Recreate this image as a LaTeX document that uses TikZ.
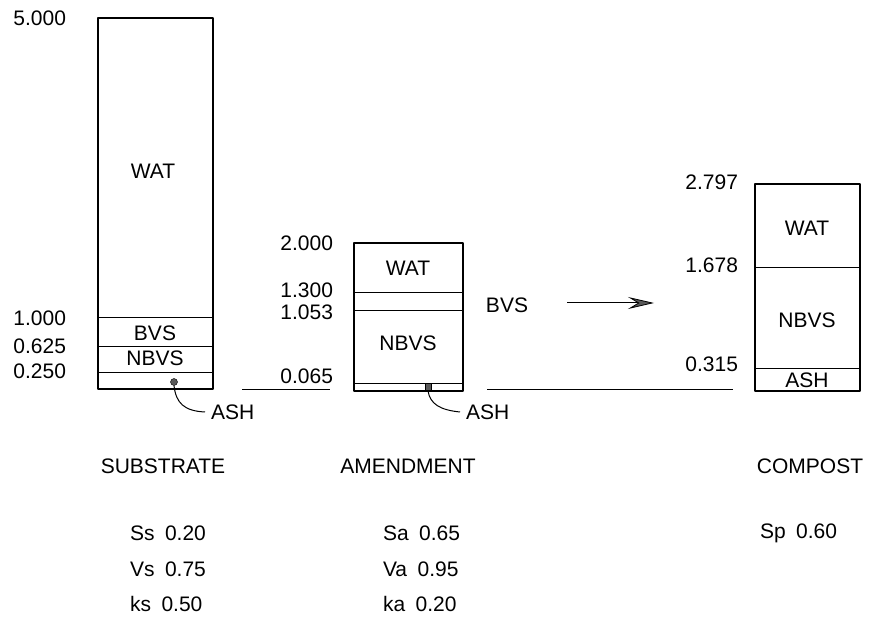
\documentclass[tikz,border=0pt]{standalone}
\usepackage{fontspec}
\setmainfont{Liberation Sans}
\usetikzlibrary{positioning,arrows.meta}

\tikzset{
  txt/.style={inner sep=0pt, outer sep=0pt, font=\fontsize{21}{24}\selectfont},
  layer/.style={draw=drawColor, line width=1.6pt, line join=round},
  divider/.style={draw=drawColor, line width=1.0pt},
  lead/.style={draw=drawColor, line width=1.0pt},
}

\begin{document}
\begin{tikzpicture}[x=1pt,y=1pt]
\definecolor{fillColor}{RGB}{255,255,255}
\definecolor{drawColor}{RGB}{0,0,0}
\definecolor{dotColor}{gray}{0.35}
\path[use as bounding box,fill=fillColor] (0,0) rectangle (874,628);

% substrate column
\path[layer] ( 98,239) rectangle (213,610);
\path[divider] ( 98,310) -- (213,310);
\path[divider] ( 98,281) -- (213,281);
\path[divider] ( 98,255) -- (213,255);
\node[txt] (subWAT) at (153,457) {WAT};
\node[txt] (subBVS) at (155,295) {BVS};
\node[txt] (subNBVS) at (155,270) {NBVS};
\node[txt,anchor=east] (sub5000) at ( 66,610) {5.000};
\node[txt,anchor=east] (sub1000) at ( 66,310) {1.000};
\node[txt,anchor=east] (sub0625) at ( 66,282) {0.625};
\node[txt,anchor=east] (sub0250) at ( 66,257) {0.250};
\node[circle,fill=dotColor,draw=drawColor,inner sep=0pt,minimum size=7pt] (subDot) at (174,246) {};
\node[txt,anchor=west] (subASH) at (211,216) {ASH};
\path[lead] (subDot.south) .. controls (176,225) and (184,217) .. ([xshift=-6pt]subASH.west);

% amendment column
\path[layer] (354,237) rectangle (463,385);
\path[divider] (354,335) -- (463,335);
\path[divider] (354,317) -- (463,317);
\path[divider] (354,244) -- (463,244);
\node[txt] (amdWAT) at (408,360) {WAT};
\node[txt] (amdNBVS) at (408,285) {NBVS};
\node[txt,anchor=east] (amd2000) at (333,385) {2.000};
\node[txt,anchor=east] (amd1300) at (333,338) {1.300};
\node[txt,anchor=east] (amd1053) at (333,316) {1.053};
\node[txt,anchor=east] (amd0065) at (333,252) {0.065};
\path[lead] (242,238) -- (330,238);
\node[rectangle,fill=dotColor,draw=drawColor,line width=0.6pt,inner sep=0pt,minimum width=6pt,minimum height=7pt] (amdDot) at (428,241) {};
\node[txt,anchor=west] (amdASH) at (466,216) {ASH};
\path[lead] (amdDot.south) .. controls (430,224) and (440,218) .. ([xshift=-6pt]amdASH.west);

% transfer of BVS
\node[txt] (bvs) at (507,323) {BVS};
\coordinate (arrStart) at (567,325);
\coordinate (arrEnd) at (654,325);
\path[lead,-{Stealth[length=26pt,width=12pt,inset=10pt,line width=0.8pt,fill=dotColor]}] (arrStart) -- (arrEnd);
\path[lead] (487,238) -- (733,238);

% compost column
\path[layer] (755,237) rectangle (860,444);
\path[divider] (755,360) -- (860,360);
\path[divider] (755,259) -- (860,259);
\node[txt] (cmpWAT) at (807,400) {WAT};
\node[txt] (cmpNBVS) at (807,308) {NBVS};
\node[txt] (cmpASH) at (807,248) {ASH};
\node[txt,anchor=east] (cmp2797) at (738,446) {2.797};
\node[txt,anchor=east] (cmp1678) at (738,363) {1.678};
\node[txt,anchor=east] (cmp0315) at (738,264) {0.315};

% titles and parameters
\node[txt] (subTitle) at (163,162) {SUBSTRATE};
\node[txt] (amdTitle) at (408,162) {AMENDMENT};
\node[txt] (cmpTitle) at (810,162) {COMPOST};
\node[txt,anchor=west] (subS) at (130, 95) {Ss\hspace{0.5em}0.20};
\node[txt,anchor=west] (subV) at (130, 59) {Vs\hspace{0.5em}0.75};
\node[txt,anchor=west] (subK) at (130, 24) {ks\hspace{0.5em}0.50};
\node[txt,anchor=west] (amdS) at (383, 95) {Sa\hspace{0.5em}0.65};
\node[txt,anchor=west] (amdV) at (383, 59) {Va\hspace{0.5em}0.95};
\node[txt,anchor=west] (amdK) at (383, 24) {ka\hspace{0.5em}0.20};
\node[txt,anchor=west] (cmpS) at (760, 95) {Sp\hspace{0.5em}0.60};
\end{tikzpicture}
\end{document}
